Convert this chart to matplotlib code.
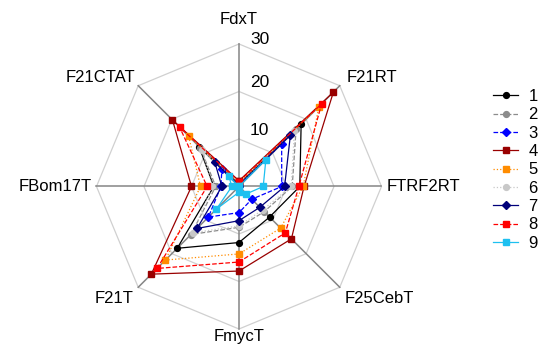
import numpy as np
import matplotlib
matplotlib.use("Agg")
import matplotlib.pyplot as plt

plt.rcParams['font.family'] = ['Liberation Sans', 'DejaVu Sans']

axes_names = ["FdxT", "F21RT", "FTRF2RT", "F25CebT", "FmycT", "F21T", "FBom17T", "F21CTAT"]
series_labels = ["1", "2", "3", "4", "5", "6", "7", "8", "9"]

s1 = [0.5, 18.5, 12.8, 9.1, 11.8, 18.4, 5.3, 11.9]
s2 = [0.3, 17.0, 11.2, 7.5, 8.6, 14.3, 4.9, 11.5]
s3 = [0.3, 12.7, 9.0, 3.8, 5.5, 9.1, 3.8, 5.1]
s4 = [1.2, 28.1, 13.7, 15.6, 17.8, 26.1, 10.0, 19.8]
s5 = [0.8, 23.8, 13.5, 12.4, 14.2, 21.9, 8.1, 15.0]
s6 = [0.3, 16.5, 11.0, 7.0, 8.3, 13.8, 5.6, 11.0]
s7 = [0.2, 15.3, 9.6, 6.2, 7.2, 12.5, 3.6, 7.2]
s8 = [1.0, 24.6, 12.6, 13.8, 15.9, 24.4, 6.7, 17.7]
s9 = [0.0, 8.0, 5.1, 2.2, 1.2, 6.7, 1.5, 3.0]

ring_ticks = [10, 20, 30]

series = [s1, s2, s3, s4, s5, s6, s7, s8, s9]
styles = [
    dict(color="#000000", ls="-", marker="o"),
    dict(color="#8c8c8c", ls="--", marker="o"),
    dict(color="#0000ff", ls="--", marker="D"),
    dict(color="#990000", ls="-", marker="s"),
    dict(color="#ff8c00", ls=":", marker="s"),
    dict(color="#c8c8c8", ls=":", marker="o"),
    dict(color="#00007a", ls="-", marker="D"),
    dict(color="#ff0000", ls="--", marker="s"),
    dict(color="#1ec0f0", ls="-", marker="s"),
]

n = len(axes_names)
theta = np.arange(n) * 2 * np.pi / n
rmax = ring_ticks[-1]
PX = 0.72  # points per pixel at 100 dpi

fig = plt.figure(figsize=(5.39, 3.51), dpi=100)
ax = fig.add_axes([0.179, 0.0627, 0.5288, 0.812], projection="polar")
ax.set_theta_offset(np.pi / 2)
ax.set_theta_direction(-1)
ax.set_ylim(0, rmax)
ax.grid(False)
ax.spines["polar"].set_visible(False)
ax.set_xticks([])
ax.set_yticks([])
ax.patch.set_alpha(0)

# octagonal rings
tc = np.append(theta, theta[0])
for r in ring_ticks:
    ax.plot(tc, [r] * (n + 1), color="#d0d0d0", lw=0.9, zorder=1, clip_on=False)
# spokes
for t in theta:
    ax.plot([t, t], [0, rmax], color="#858585", lw=1.1, zorder=1, clip_on=False)

# ring labels, to the right of the vertical spoke
ring_lift = {10: 8.5, 20: 8.5, 30: 4.0}
for r in ring_ticks:
    ax.annotate(str(r), xy=(0, r), xytext=(11 * PX, ring_lift[r] * PX),
                textcoords="offset points", fontsize=12.5,
                ha="left", va="center", zorder=5)

# axis labels around the outer ring
label_off = {
    "FdxT": (0, 24, "center"),
    "F21RT": (7, 8, "left"),
    "FTRF2RT": (5, 0, "left"),
    "F25CebT": (5, -11, "left"),
    "FmycT": (0, -8, "center"),
    "F21T": (-5, -11, "right"),
    "FBom17T": (-5, 0, "right"),
    "F21CTAT": (-3, 8, "right"),
}
for t, name in zip(theta, axes_names):
    dx, dy, ha = label_off[name]
    ax.annotate(name, xy=(t, rmax), xytext=(dx * PX, dy * PX),
                textcoords="offset points", fontsize=12, ha=ha, va="center")

handles = []
for vals, st, lab in zip(series, styles, series_labels):
    v = list(vals) + [vals[0]]
    h, = ax.plot(tc, v, color=st["color"], ls=st["ls"], lw=0.9,
                 marker=st["marker"], ms=4.2 if st["marker"] != "D" else 4.0,
                 mfc=st["color"], mec=st["color"], label=lab, zorder=3,
                 clip_on=False)
    handles.append(h)

fig.legend(handles=handles, labels=series_labels, loc="upper left",
           bbox_to_anchor=(0.903, 0.765), frameon=False, fontsize=12,
           handlelength=1.5, handletextpad=0.6, labelspacing=0.2,
           borderaxespad=0)

fig.savefig("out.png", dpi=100)
